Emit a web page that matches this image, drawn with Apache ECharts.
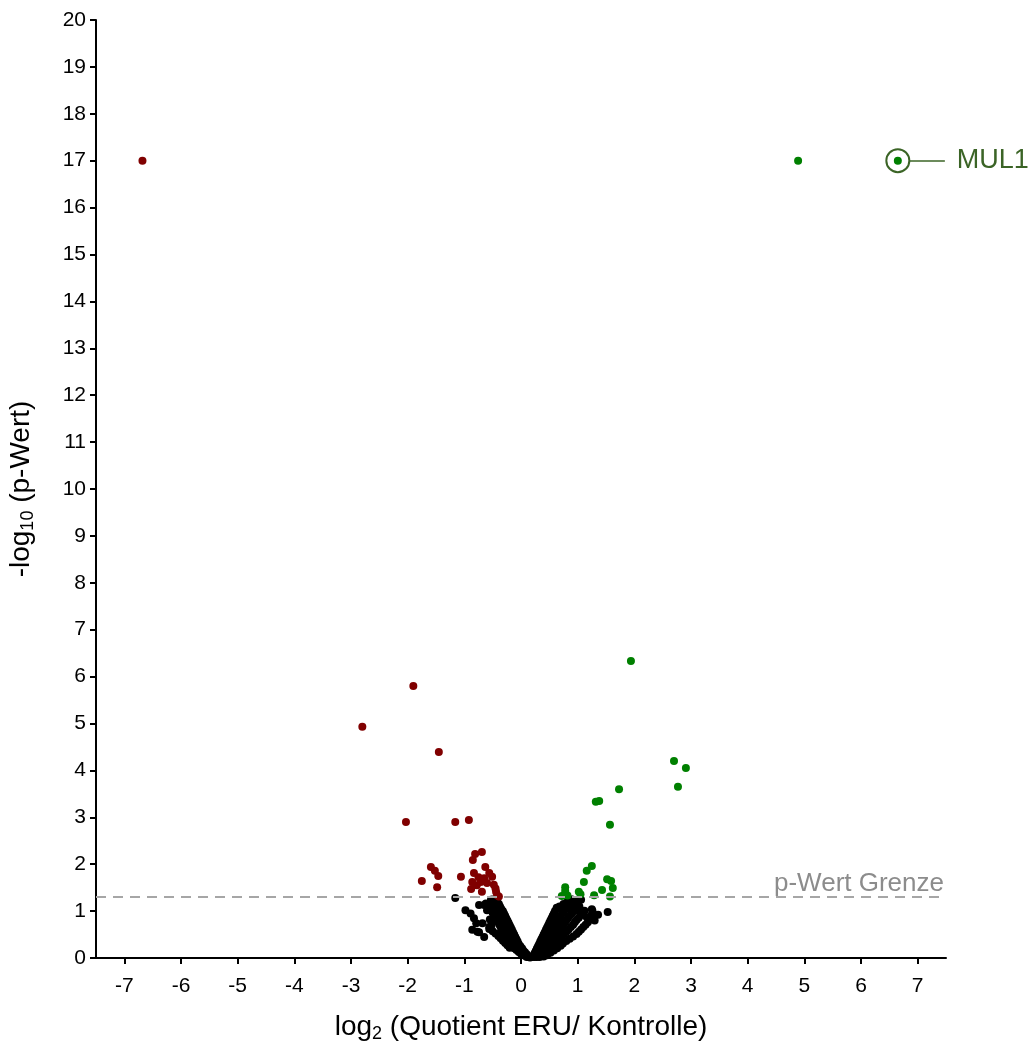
<!DOCTYPE html>
<html>
<head>
<meta charset="utf-8">
<title>Volcano plot ERU / Kontrolle</title>
<script src="https://cdn.jsdelivr.net/npm/echarts@6/dist/echarts.min.js"></script>
<style>
  html, body { margin: 0; padding: 0; background: #fff; }
  #chart { width: 1035px; height: 1045px; }
</style>
</head>
<body>
<div id="chart"></div>
<script>
// x = log2(ERU / Kontrolle), y = -log10(p)
const xTicks = [-7, -6, -5, -4, -3, -2, -1, 0, 1, 2, 3, 4, 5, 6, 7];
const pThreshold = 1.3;
const highlightName = 'MUL1';
const highlightPoint = [6.65, 17.0];

// significant, down
const redPoints = [
    [-6.68, 17.0], [-1.90, 5.80], [-2.80, 4.93], [-1.45, 4.39], [-2.03, 2.90], [-1.16, 2.90], [-0.92, 2.94],
    [-1.75, 1.64], [-1.59, 1.94], [-1.52, 1.86], [-1.46, 1.75], [-1.48, 1.51], [-1.06, 1.73], [-0.85, 2.09],
    [-0.81, 2.22], [-0.69, 2.26], [-0.63, 1.94], [-0.83, 1.81], [-0.56, 1.81], [-0.51, 1.73], [-0.86, 1.62],
    [-0.71, 1.62], [-0.60, 1.60], [-0.48, 1.56], [-0.88, 1.47], [-0.69, 1.41], [-0.44, 1.41], [-0.42, 1.34],
    [-0.39, 1.31], [-0.75, 1.72], [-0.65, 1.70], [-0.78, 1.55], [-0.45, 1.48]
];

// significant, up
const greenPoints = [
    [4.89, 17.0], [1.94, 6.33], [2.70, 4.20], [2.91, 4.05], [2.77, 3.65], [1.73, 3.60], [1.32, 3.33],
    [1.38, 3.35], [1.57, 2.84], [1.25, 1.96], [1.16, 1.86], [1.11, 1.62], [1.52, 1.68], [1.59, 1.64],
    [1.62, 1.49], [1.43, 1.45], [1.29, 1.34], [1.57, 1.31], [1.02, 1.41], [0.78, 1.51], [0.78, 1.43],
    [0.72, 1.32], [0.82, 1.33], [1.05, 1.36]
];

// not significant
const blackPoints = [
    // left arm
    [0.10, 0.02], [0.14, 0.02], [0.16, 0.01], [0.12, 0.03], [0.08, 0.05], [0.12, 0.05], [0.04, 0.06],
    [0.05, 0.08], [0.10, 0.08], [0.00, 0.09], [0.02, 0.12], [0.07, 0.12], [-0.04, 0.13],
    [-0.02, 0.16], [0.04, 0.16], [-0.08, 0.17], [-0.05, 0.20], [0.02, 0.20], [-0.12, 0.21], [-0.20, 0.22],
    [-0.08, 0.25], [-0.01, 0.25], [-0.15, 0.26], [-0.24, 0.27], [-0.11, 0.30], [-0.04, 0.30], [-0.18, 0.31],
    [-0.28, 0.32], [-0.13, 0.35], [-0.06, 0.35], [-0.21, 0.36], [-0.32, 0.37], [-0.15, 0.40], [-0.08, 0.40],
    [-0.24, 0.41], [-0.36, 0.42], [-0.18, 0.45], [-0.10, 0.45], [-0.27, 0.46], [-0.40, 0.47], [-0.20, 0.50],
    [-0.12, 0.50], [-0.30, 0.51], [-0.45, 0.52], [-0.22, 0.55], [-0.14, 0.55], [-0.32, 0.56], [-0.50, 0.57],
    [-0.24, 0.60], [-0.16, 0.60], [-0.34, 0.61], [-0.56, 0.62], [-0.26, 0.65], [-0.18, 0.65], [-0.36, 0.66],
    [-0.28, 0.70], [-0.20, 0.70], [-0.38, 0.71], [-0.52, 0.70], [-0.30, 0.75], [-0.22, 0.75], [-0.40, 0.76],
    [-0.32, 0.80], [-0.24, 0.80], [-0.43, 0.81], [-0.55, 0.82], [-0.34, 0.85], [-0.26, 0.85], [-0.45, 0.86],
    [-0.36, 0.90], [-0.28, 0.90], [-0.47, 0.91], [-0.38, 0.95], [-0.30, 0.95], [-0.50, 0.96], [-0.40, 1.00],
    [-0.32, 1.00], [-0.52, 1.01], [-0.60, 1.02], [-0.42, 1.05], [-0.35, 1.05], [-0.55, 1.06], [-0.44, 1.10],
    [-0.37, 1.10], [-0.57, 1.11], [-0.46, 1.15], [-0.39, 1.15], [-0.62, 1.16], [-0.48, 1.20], [-0.42, 1.20],
    [-0.50, 1.25], [-0.44, 1.25],
    // left stragglers
    [-1.16, 1.28], [-0.98, 1.02], [-0.89, 0.95], [-0.83, 0.85], [-0.79, 0.74], [-0.86, 0.60], [-0.77, 0.56],
    [-0.68, 0.74], [-0.74, 1.13], [-0.65, 1.13], [-0.53, 1.24], [-0.42, 1.24], [-0.56, 0.66], [-0.74, 0.55],
    [-0.65, 0.45],
    // right arm
    [0.20, 0.02], [0.24, 0.02], [0.28, 0.02], [0.33, 0.02], [0.40, 0.03],
    [0.22, 0.05], [0.27, 0.05], [0.32, 0.05], [0.38, 0.06], [0.46, 0.06],
    [0.24, 0.10], [0.30, 0.10], [0.36, 0.10], [0.44, 0.11], [0.52, 0.11],
    [0.26, 0.15], [0.32, 0.15], [0.40, 0.15], [0.48, 0.16], [0.58, 0.16],
    [0.28, 0.20], [0.35, 0.20], [0.43, 0.20], [0.52, 0.21], [0.64, 0.21],
    [0.30, 0.25], [0.38, 0.25], [0.46, 0.25], [0.56, 0.26], [0.70, 0.26],
    [0.32, 0.30], [0.40, 0.30], [0.50, 0.30], [0.60, 0.31], [0.74, 0.31],
    [0.34, 0.35], [0.43, 0.35], [0.53, 0.35], [0.64, 0.36], [0.80, 0.36],
    [0.36, 0.40], [0.45, 0.40], [0.56, 0.40], [0.68, 0.41], [0.86, 0.41],
    [0.38, 0.45], [0.48, 0.45], [0.59, 0.45], [0.72, 0.46], [0.92, 0.46],
    [0.40, 0.50], [0.50, 0.50], [0.62, 0.50], [0.76, 0.51], [0.98, 0.51],
    [0.42, 0.55], [0.53, 0.55], [0.65, 0.55], [0.80, 0.56], [1.02, 0.56],
    [0.44, 0.60], [0.55, 0.60], [0.68, 0.60], [0.84, 0.61], [1.06, 0.61],
    [0.46, 0.65], [0.58, 0.65], [0.71, 0.65], [0.88, 0.66], [1.10, 0.66],
    [0.48, 0.70], [0.60, 0.70], [0.74, 0.70], [0.92, 0.71], [1.14, 0.71],
    [0.50, 0.75], [0.63, 0.75], [0.77, 0.75], [0.95, 0.76], [1.18, 0.76],
    [0.52, 0.80], [0.65, 0.80], [0.80, 0.80], [0.98, 0.81], [1.20, 0.81],
    [0.54, 0.85], [0.68, 0.85], [0.83, 0.85], [1.02, 0.86], [1.22, 0.86],
    [0.56, 0.90], [0.70, 0.90], [0.86, 0.90], [1.05, 0.91], [1.24, 0.91],
    [0.58, 0.95], [0.73, 0.95], [0.90, 0.95], [1.08, 0.96],
    [0.60, 1.00], [0.76, 1.00], [0.94, 1.00], [1.12, 1.01], [1.26, 1.01],
    [0.63, 1.05], [0.80, 1.05], [0.98, 1.05], [0.68, 1.10], [0.85, 1.10], [1.03, 1.10],
    [0.75, 1.15], [0.90, 1.15], [0.82, 1.20], [0.98, 1.20], [0.90, 1.25], [1.04, 1.25],
    // right stragglers
    [1.53, 0.98], [1.25, 1.04], [1.16, 0.87], [1.06, 1.24], [0.90, 1.24], [0.63, 1.07], [1.36, 0.92],
    [1.30, 0.80]
];

const FONT = '"Liberation Sans", Arial, sans-serif';
const RED = '#800000';
const GREEN = '#008000';
const DARK_GREEN = '#3b6426';

function renderChart() {
    const chartDom = document.getElementById('chart');
    const myChart = echarts.init(chartDom, null, { renderer: 'canvas' });

    const axisCommon = {
        axisLine: { show: true, onZero: false, lineStyle: { color: '#000', width: 2 } },
        axisTick: { show: true, inside: false, length: 6, lineStyle: { color: '#000', width: 2 } },
        axisLabel: { color: '#000', fontSize: 21, fontFamily: FONT },
        splitLine: { show: false }
    };

    const nameStyle = {
        color: '#000', fontSize: 28, fontFamily: FONT,
        rich: { sub: { fontSize: 18, fontFamily: FONT, color: '#000', padding: [13, 0, 0, 0] } }
    };

    const option = {
        backgroundColor: '#fff',
        animation: false,
        // keep the plot area fixed; the axis names sit close to the edge
        grid: { left: 96, right: 89, top: 20, bottom: 87, containLabel: false, outerBoundsMode: 'none' },
        xAxis: {
            type: 'value',
            min: -7.5,
            max: 7.5,
            ...axisCommon,
            axisTick: { ...axisCommon.axisTick, customValues: xTicks },
            axisLabel: { ...axisCommon.axisLabel, margin: 18, customValues: xTicks },
            name: 'log{sub|2} (Quotient ERU/ Kontrolle)',
            nameLocation: 'middle',
            nameGap: 54,
            nameTextStyle: nameStyle
        },
        yAxis: {
            type: 'value',
            min: 0,
            max: 20,
            interval: 1,
            ...axisCommon,
            axisLabel: { ...axisCommon.axisLabel, margin: 10 },
            name: '-log{sub|10} (p-Wert)',
            nameLocation: 'middle',
            nameGap: 59,
            nameTextStyle: nameStyle
        },
        series: [
            {
                name: 'n.s.',
                type: 'scatter',
                data: blackPoints,
                symbolSize: 8,
                itemStyle: { color: '#000', opacity: 1 },
                markLine: {
                    silent: true,
                    symbol: 'none',
                    data: [{ yAxis: pThreshold }],
                    lineStyle: { color: '#a6a6a6', type: [10, 7], width: 2 },
                    label: {
                        position: 'insideEndTop',
                        formatter: 'p-Wert Grenze',
                        color: '#8c8c8c',
                        fontSize: 26,
                        fontFamily: FONT,
                        distance: [2, 0]
                    }
                }
            },
            {
                name: 'down',
                type: 'scatter',
                data: redPoints,
                symbolSize: 8,
                itemStyle: { color: RED, opacity: 1 }
            },
            {
                name: 'up',
                type: 'scatter',
                data: greenPoints,
                symbolSize: 8,
                itemStyle: { color: GREEN, opacity: 1 }
            },
            {
                // highlighted protein with ring and label
                name: highlightName,
                type: 'scatter',
                data: [highlightPoint],
                symbolSize: 8,
                z: 5,
                itemStyle: { color: GREEN, opacity: 1 }
            },
            {
                name: highlightName + ' ring',
                type: 'scatter',
                data: [highlightPoint],
                symbol: 'circle',
                symbolSize: 23,
                z: 4,
                itemStyle: { color: 'rgba(0,0,0,0)', borderColor: DARK_GREEN, borderWidth: 2, opacity: 1 },
                markLine: {
                    silent: true,
                    symbol: 'none',
                    data: [[
                        { coord: [highlightPoint[0] + 0.21, highlightPoint[1]] },
                        { coord: [7.48, highlightPoint[1]] }
                    ]],
                    lineStyle: { color: DARK_GREEN, type: 'solid', width: 1.5 },
                    label: {
                        position: 'end',
                        formatter: highlightName,
                        color: DARK_GREEN,
                        fontSize: 27,
                        fontFamily: FONT,
                        distance: 12
                    }
                }
            }
        ]
    };

    myChart.setOption(option);
    window.addEventListener('resize', () => myChart.resize());
}

renderChart();
</script>
</body>
</html>
